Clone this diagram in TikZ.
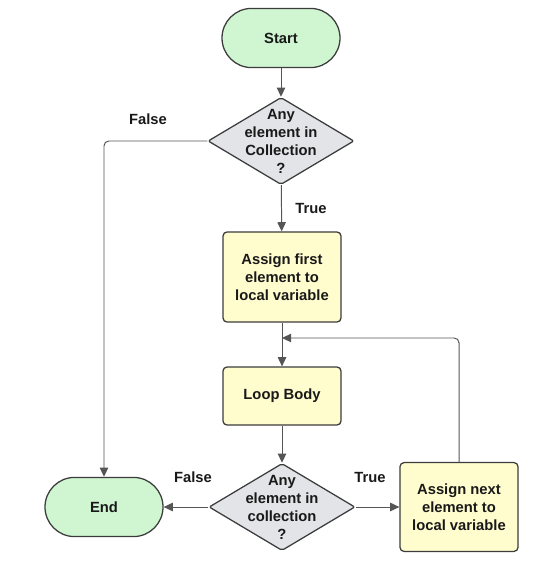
\documentclass[tikz,border=0pt]{standalone}
\usepackage{fontspec}
\setmainfont{Liberation Sans}
\usepackage{tikz}
\usetikzlibrary{shapes.geometric, arrows.meta}

\definecolor{termgreen}{RGB}{207,245,209}
\definecolor{procyellow}{RGB}{255,253,206}
\definecolor{decgray}{RGB}{226,228,232}
\definecolor{edgedark}{RGB}{60,60,60}
\definecolor{linegray}{RGB}{85,85,85}

\begin{document}
\begin{tikzpicture}[
        txt/.style={font=\bfseries\fontsize{10.5}{12.8}\selectfont, text=black!90, align=center},
        terminal/.style={txt, draw=edgedark, line width=0.9pt, fill=termgreen, minimum width=2.95cm, minimum height=1.48cm, rounded corners=0.74cm},
        process/.style={txt, draw=edgedark, line width=0.9pt, fill=procyellow, minimum width=2.95cm, rounded corners=0.1cm},
        decision/.style={diamond, draw=edgedark, line width=0.9pt, fill=decgray, inner sep=0pt, minimum width=3.65cm, minimum height=2.18cm, rounded corners=0.05cm},
        lbl/.style={txt},
        arr/.style={draw=linegray, line width=0.7pt, -{Triangle[length=6.5pt, width=6pt]}}
    ]
            \useasboundingbox (0,0) rectangle (13.55,-14.3);

            \node[terminal] (start) at (7.025, -0.95) {Start};
            \node[decision, label={[txt]center:Any\\element in\\Collection\\?}] (dec1) at (7.025, -3.525) {};
            \node[process, minimum height=2.25cm] (assign1) at (7.05, -6.925) {Assign first\\element to\\local variable};
            \node[process, minimum height=1.45cm] (body) at (7.05, -9.9) {Loop Body};
            \node[decision, label={[txt]center:Any\\element in\\collection\\?}] (dec2) at (7.05, -12.675) {};
            \node[terminal] (end) at (2.6, -12.675) {End};
            \node[process, minimum height=2.22cm] (assign2) at (11.475, -12.675) {Assign next\\element to\\local variable};
            \coordinate (loopin) at (7.05, -8.45);

            \node[lbl] (false1) at (3.7, -2.975) {False};
            \node[lbl] (true1) at (7.775, -5.2) {True};
            \node[lbl] (false2) at (4.825, -11.925) {False};
            \node[lbl] (true2) at (9.25, -11.925) {True};

            \draw[arr] (start) -- (dec1);
            \draw[arr] (dec1) -- (assign1);
            \draw[arr, rounded corners=0.12cm] (dec1.west) -| (end.north);
            \draw[arr] (assign1) -- (body);
            \draw[arr] (body) -- (dec2);
            \draw[arr] (dec2.west) -- (end.east);
            \draw[arr] (dec2.east) -- (assign2.west);
            \draw[arr, rounded corners=0.12cm] (assign2.north) |- (loopin);
        \end{tikzpicture}
\end{document}
